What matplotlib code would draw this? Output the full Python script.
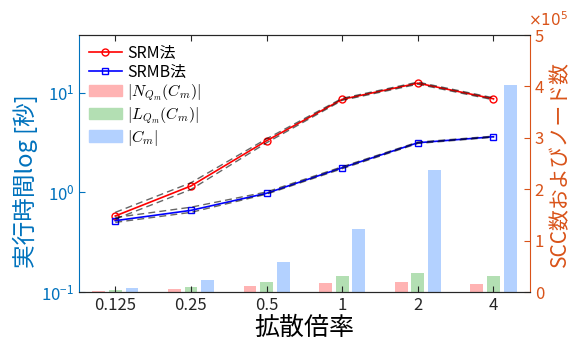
import numpy as np
import matplotlib
matplotlib.use('Agg')
import matplotlib.pyplot as plt
from matplotlib.ticker import FixedLocator, FuncFormatter, NullLocator
from matplotlib.patches import Patch
from matplotlib.lines import Line2D

plt.rcParams['font.family'] = ['Noto Sans CJK JP', 'DejaVu Sans']
plt.rcParams['mathtext.fontset'] = 'cm'

# data
categories = ['0.125', '0.25', '0.5', '1', '2', '4']
srm_time = [0.58, 1.16, 3.3, 8.6, 12.5, 8.7]
srmb_time = [0.52, 0.66, 0.98, 1.77, 3.15, 3.62]
srm_upper = [0.63, 1.25, 3.45, 8.8, 12.8, 8.9]
srm_lower = [0.54, 1.07, 3.15, 8.4, 12.2, 8.5]
srmb_upper = [0.56, 0.71, 1.01, 1.81, 3.2, 3.67]
srmb_lower = [0.50, 0.63, 0.96, 1.73, 3.1, 3.58]
n_nodes = [2000, 6400, 12000, 17500, 19500, 15500]
l_nodes = [4000, 10000, 20000, 31000, 37000, 30500]
c_nodes = [8000, 23000, 58000, 122000, 237000, 402000]

blue_ax = '#0072BD'
orange_ax = '#D95319'
x = np.arange(len(categories))

fig = plt.figure(figsize=(5.74, 3.47), dpi=100)
ax = fig.add_axes([0.1376, 0.1585, 0.7854, 0.7405])
ax2 = ax.twinx()

# bars on right axis
w = 0.17
ax2.bar(x - 0.22, n_nodes, w, color='#FFB3B3')
ax2.bar(x, l_nodes, w, color='#B3DFB3')
ax2.bar(x + 0.22, c_nodes, w, color='#B3D1FF')
ax2.set_ylim(0, 5e5)
ax2.yaxis.set_major_locator(FixedLocator([0, 1e5, 2e5, 3e5, 4e5, 5e5]))
ax2.yaxis.set_major_formatter(FuncFormatter(lambda v, p: '%d' % round(v / 1e5)))
ax2.tick_params(axis='y', colors=orange_ax, direction='in', labelsize=12, length=4)
ax2.set_ylabel('SCC数およびノード数', color=orange_ax, fontsize=15, labelpad=4)
ax2.text(0.997, 1.025, r'$\mathdefault{\times10^{5}}$', transform=ax2.transAxes,
         color=orange_ax, fontsize=11, ha='left', va='bottom', family='DejaVu Sans')
ax2.spines['right'].set_color(orange_ax)

# lines on left log axis
ax.set_zorder(ax2.get_zorder() + 1)
ax.patch.set_visible(False)
ax.plot(x, srm_time, '-o', color='red', lw=1.2, ms=5, mfc='none', mew=1)
ax.plot(x, srmb_time, '-s', color='blue', lw=1.2, ms=4.5, mfc='none', mew=1)
for s in [srm_upper, srm_lower, srmb_upper, srmb_lower]:
    ax.plot(x, s, '--', color='black', lw=1, alpha=0.6, dashes=(5, 3))
ax.set_yscale('log')
ax.set_ylim(0.1, 38)
ax.yaxis.set_major_locator(FixedLocator([0.1, 1, 10]))
ax.yaxis.set_minor_locator(NullLocator())
ax.set_xlim(-0.48, 5.48)
ax.set_xticks(x)
ax.set_xticklabels(categories)
ax.tick_params(axis='x', direction='in', top=True, labelsize=12, length=4, colors='#262626')
ax.tick_params(axis='y', colors=blue_ax, direction='in', labelsize=12, length=4)
ax.set_ylabel('実行時間log [秒]', color=blue_ax, fontsize=17, labelpad=3)
ax.yaxis.set_label_coords(-0.09, 0.43)
ax.set_xlabel('拡散倍率', fontsize=18, labelpad=1)
for sp in ['top', 'bottom']:
    ax.spines[sp].set_color('#262626')
ax.spines['left'].set_color(blue_ax)
ax.spines['right'].set_visible(False)
ax2.spines['left'].set_visible(False)
ax2.spines['top'].set_color('#262626')
ax2.spines['bottom'].set_color('#262626')

handles = [
    Line2D([], [], color='red', marker='o', mfc='none', ms=5, lw=1.2),
    Line2D([], [], color='blue', marker='s', mfc='none', ms=4.5, lw=1.2),
    Patch(color='#FFB3B3'), Patch(color='#B3DFB3'), Patch(color='#B3D1FF'),
]
labels = ['SRM法', 'SRMB法', r'$|N_{Q_m}(C_m)|$', r'$|L_{Q_m}(C_m)|$', r'$|C_m|$']
ax.legend(handles, labels, loc='upper left', frameon=False, fontsize=11.5,
          handlelength=2.1, labelspacing=0.12, borderaxespad=0.2, handletextpad=0.3)

fig.savefig('out.png', dpi=100)
